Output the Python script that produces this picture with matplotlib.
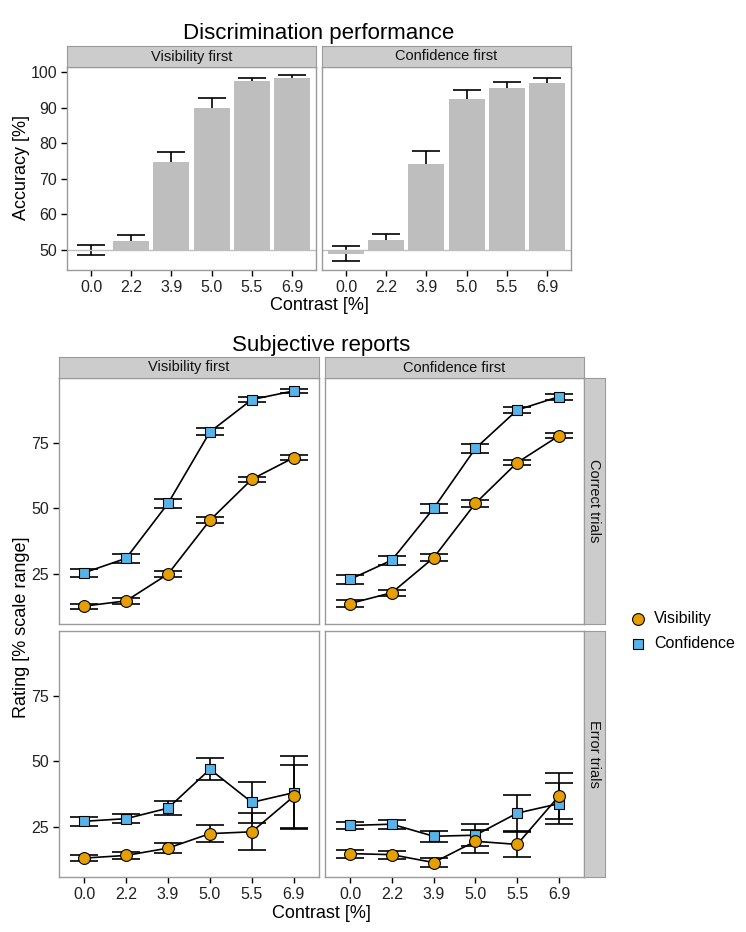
import numpy as np
import matplotlib
matplotlib.use('Agg')
import matplotlib.pyplot as plt

plt.rcParams['font.family'] = ['Liberation Sans', 'DejaVu Sans']

# --- data ---
contrast = ['0.0', '2.2', '3.9', '5.0', '5.5', '6.9']
orders = ['Visibility first', 'Confidence first']

acc_mean = {
    'Visibility first': [50.0, 52.6, 74.7, 89.9, 97.4, 98.2],
    'Confidence first': [48.9, 52.8, 74.1, 92.5, 95.5, 96.9],
}
acc_err = {
    'Visibility first': [1.3, 1.6, 2.7, 2.9, 1.0, 0.9],
    'Confidence first': [2.1, 1.6, 3.6, 2.5, 1.6, 1.3],
}

# subjective ratings: [order][trial type] -> means / sems
vis_mean = {
    ('Visibility first', 'Correct'): [12.8, 14.8, 25.0, 45.5, 61.1, 69.3],
    ('Confidence first', 'Correct'): [13.8, 17.9, 31.2, 51.9, 67.4, 77.6],
    ('Visibility first', 'Error'): [13.2, 14.2, 17.0, 22.5, 23.2, 36.7],
    ('Confidence first', 'Error'): [14.9, 14.5, 11.5, 19.6, 18.4, 36.8],
}
vis_err = {
    ('Visibility first', 'Correct'): [1.0, 1.0, 1.1, 1.1, 1.0, 0.9],
    ('Confidence first', 'Correct'): [1.2, 1.2, 1.3, 1.2, 1.0, 0.9],
    ('Visibility first', 'Error'): [1.3, 1.3, 1.8, 3.2, 7.0, 12.0],
    ('Confidence first', 'Error'): [1.5, 1.5, 1.8, 4.3, 4.9, 8.8],
}
conf_mean = {
    ('Visibility first', 'Correct'): [25.5, 31.0, 51.9, 79.1, 91.4, 94.7],
    ('Confidence first', 'Correct'): [23.0, 30.3, 50.0, 72.8, 87.4, 92.5],
    ('Visibility first', 'Error'): [27.2, 28.2, 32.2, 47.0, 34.4, 38.1],
    ('Confidence first', 'Error'): [25.6, 26.1, 21.5, 21.9, 30.3, 33.9],
}
conf_err = {
    ('Visibility first', 'Correct'): [1.5, 1.6, 1.6, 1.3, 1.0, 0.9],
    ('Confidence first', 'Correct'): [1.7, 1.7, 1.7, 1.6, 1.1, 1.1],
    ('Visibility first', 'Error'): [1.8, 1.8, 2.6, 4.2, 7.7, 13.8],
    ('Confidence first', 'Error'): [1.5, 1.7, 2.1, 4.1, 6.8, 7.9],
}

ORANGE = '#E69F00'
BLUE = '#56B4E9'
STRIP = '#CCCCCC'
BORDER = '#9A9A9A'

W, H = 746, 932
fig = plt.figure(figsize=(W / 100, H / 100), dpi=100)


def box(x0, y0, x1, y1):
    """pixel box (top-left origin) -> figure fraction rect"""
    return [x0 / W, 1 - y1 / H, (x1 - x0) / W, (y1 - y0) / H]


def style_panel(ax, left=True, bottom=True):
    for s in ax.spines.values():
        s.set_color(BORDER)
        s.set_linewidth(1.0)
    ax.tick_params(length=4, width=1, color='black', labelsize=11.5,
                   labelcolor='#222222', pad=3)
    if not left:
        ax.tick_params(axis='y', left=False, labelleft=False)
    if not bottom:
        ax.tick_params(axis='x', bottom=False, labelbottom=False)


def strip(x0, y0, x1, y1, text, rot=0):
    sa = fig.add_axes(box(x0, y0, x1, y1))
    sa.set_facecolor(STRIP)
    sa.set_xticks([])
    sa.set_yticks([])
    for s in sa.spines.values():
        s.set_color(BORDER)
        s.set_linewidth(0.8)
    sa.text(0.5, 0.5, text, ha='center', va='center', rotation=rot,
            fontsize=10.5, color='#111111', transform=sa.transAxes)


x = np.arange(len(contrast))

# --- top: discrimination performance ---
top_x = [(67, 316), (322, 571)]
for i, order in enumerate(orders):
    x0, x1 = top_x[i]
    ax = fig.add_axes(box(x0, 67, x1, 270))
    m = np.array(acc_mean[order])
    e = np.array(acc_err[order])
    ax.errorbar(x, m, yerr=e, fmt='none', ecolor='black', elinewidth=1.2,
                capsize=10, capthick=1.2, zorder=1)
    ax.bar(x, m - 50, bottom=50, width=0.9, color='#BEBEBE', zorder=2)
    ax.axhline(50, color='#BEBEBE', lw=1, zorder=1.5)
    ax.set_xlim(-0.6, 5.6)
    ax.set_ylim(44.4, 101.4)
    ax.set_yticks([50, 60, 70, 80, 90, 100])
    ax.set_xticks(x)
    ax.set_xticklabels(contrast)
    style_panel(ax, left=(i == 0))
    strip(x0, 46, x1, 67, order)

fig.text(319 / W, 1 - 33 / H, 'Discrimination performance', ha='center',
         va='center', fontsize=16)
fig.text(319 / W, 1 - 306 / H, 'Contrast [%]', ha='center', va='center',
         fontsize=13)
fig.text(22 / W, 1 - 168 / H, 'Accuracy [%]', ha='center', va='center',
         rotation=90, fontsize=13)

# --- bottom: subjective reports ---
bot_x = [(59, 319), (325, 584)]
bot_y = {'Correct': (378, 624), 'Error': (631, 877)}
for j, trial in enumerate(['Correct', 'Error']):
    y0, y1 = bot_y[trial]
    for i, order in enumerate(orders):
        x0, x1 = bot_x[i]
        ax = fig.add_axes(box(x0, y0, x1, y1))
        key = (order, trial)
        for mean, err, col, mk, ms in [
                (conf_mean[key], conf_err[key], BLUE, 's', 7.5),
                (vis_mean[key], vis_err[key], ORANGE, 'o', 8.5)]:
            ax.errorbar(x, mean, yerr=err, fmt='none', ecolor='black',
                        elinewidth=1.2, capsize=10, capthick=1.2, zorder=2)
            ax.plot(x, mean, color='black', lw=1.2, zorder=3)
            ax.plot(x, mean, ls='none', marker=mk, ms=ms, mfc=col,
                    mec='black', mew=0.8, zorder=4)
        ax.set_xlim(-0.6, 5.6)
        ax.set_ylim(6.0, 99.6)
        ax.set_yticks([25, 50, 75])
        ax.set_xticks(x)
        ax.set_xticklabels(contrast)
        style_panel(ax, left=(i == 0), bottom=(trial == 'Error'))
        if j == 0:
            strip(x0, 357, x1, 378, order)
    strip(584, y0, 605, y1, trial + ' trials', rot=-90)

fig.text(321 / W, 1 - 345 / H, 'Subjective reports', ha='center',
         va='center', fontsize=16)
fig.text(321 / W, 1 - 913 / H, 'Contrast [%]', ha='center', va='center',
         fontsize=13)
fig.text(22 / W, 1 - 627 / H, 'Rating [% scale range]', ha='center',
         va='center', rotation=90, fontsize=13)

# legend
fig.lines.append(plt.Line2D([638 / W], [1 - 619 / H], marker='o', ms=8.5,
                            mfc=ORANGE, mec='black', mew=0.8, ls='none',
                            transform=fig.transFigure))
fig.lines.append(plt.Line2D([638 / W], [1 - 644 / H], marker='s', ms=7.5,
                            mfc=BLUE, mec='black', mew=0.8, ls='none',
                            transform=fig.transFigure))
fig.text(654 / W, 1 - 619 / H, 'Visibility', va='center', fontsize=11.5)
fig.text(654 / W, 1 - 644 / H, 'Confidence', va='center', fontsize=11.5)

fig.savefig('out.png', dpi=100, facecolor='white')
